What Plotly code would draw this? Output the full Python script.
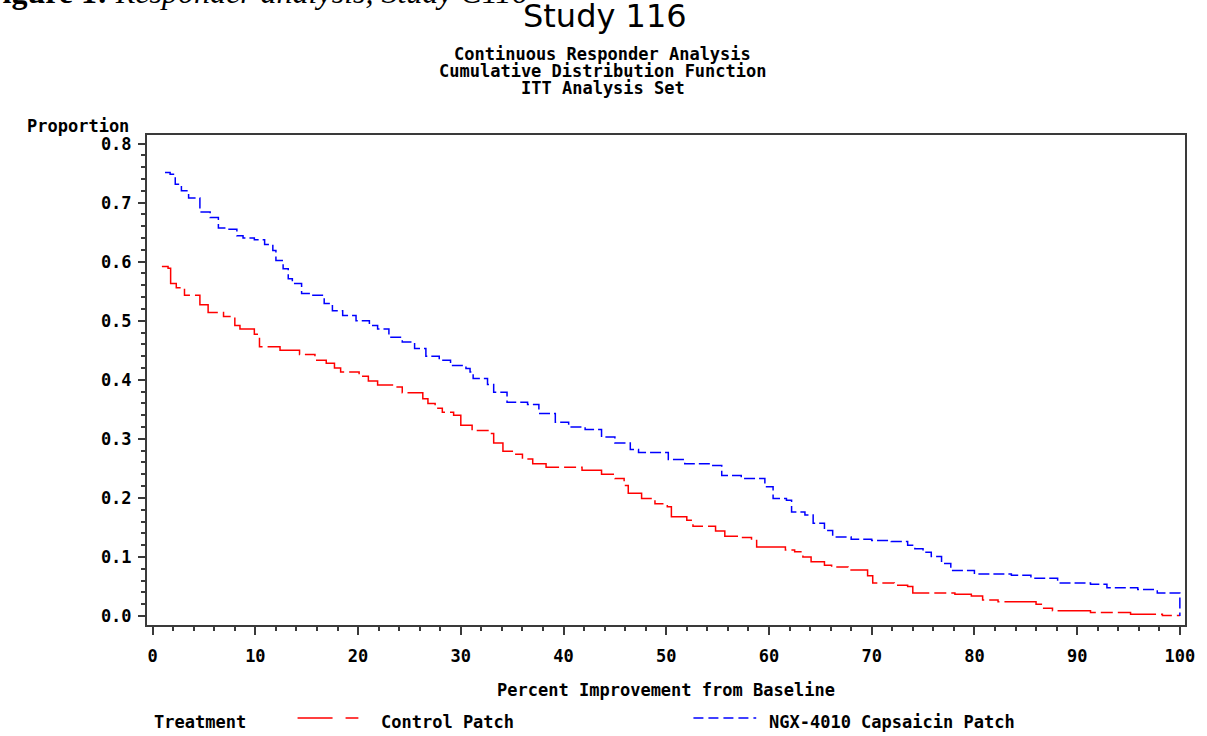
import plotly.graph_objects as go

# ---------------- data ----------------
control_x = [0.9, 1.5, 1.75, 2.3, 3.1, 4.6, 5.4, 6.9, 8.0, 8.5, 9.9, 10.4, 12.4, 14.3,
             15.8, 16.9, 17.7, 18.3, 20.1, 21.0, 21.9, 23.5, 24.3, 26.3, 26.8, 27.5,
             28.2, 29.3, 30.0, 31.1, 32.9, 33.2, 34.1, 35.2, 36.0, 37.0, 38.3, 41.8,
             43.7, 45.0, 45.9, 46.3, 47.6, 48.9, 50.1, 50.5, 52.0, 52.6, 54.8, 55.7,
             57.0, 58.3, 58.8, 61.6, 62.5, 63.3, 64.1, 65.4, 66.1, 67.7, 69.6, 70.1,
             72.2, 73.5, 74.0, 78.1, 79.7, 80.8, 82.3, 86.0, 86.6, 87.6, 91.3, 95.2,
             98.3, 100.0]
control_y = [0.592, 0.589, 0.563, 0.556, 0.543, 0.527, 0.514, 0.507, 0.492, 0.486, 0.477,
             0.456, 0.450, 0.443, 0.433, 0.428, 0.420, 0.413, 0.406, 0.398, 0.391, 0.388,
             0.378, 0.368, 0.360, 0.352, 0.345, 0.340, 0.323, 0.314, 0.309, 0.293, 0.279,
             0.274, 0.266, 0.258, 0.252, 0.247, 0.240, 0.233, 0.221, 0.208, 0.199, 0.190,
             0.185, 0.168, 0.162, 0.152, 0.144, 0.135, 0.133, 0.128, 0.117, 0.112, 0.109,
             0.100, 0.092, 0.086, 0.083, 0.078, 0.068, 0.056, 0.052, 0.050, 0.039, 0.037,
             0.034, 0.027, 0.024, 0.020, 0.013, 0.009, 0.006, 0.003, 0.001, 0.001]

capsaicin_x = [1.2, 1.7, 2.2, 2.8, 3.5, 4.6, 5.6, 6.4, 7.3, 8.2, 8.8, 9.9, 10.9, 11.7,
               12.0, 12.7, 13.2, 13.6, 14.5, 15.6, 16.7, 17.5, 18.5, 19.8, 21.1, 21.9,
               23.0, 24.3, 25.5, 26.6, 27.9, 29.0, 30.5, 30.9, 31.2, 32.6, 33.2, 34.5,
               36.5, 37.6, 39.2, 40.5, 42.1, 43.7, 45.0, 46.5, 47.3, 50.2, 51.8, 54.4,
               55.4, 57.3, 59.6, 60.4, 61.7, 62.2, 63.5, 64.3, 65.4, 66.2, 68.0, 70.0,
               71.9, 73.5, 74.2, 75.0, 75.8, 76.8, 77.7, 80.0, 83.6, 85.5, 88.1, 91.3,
               92.9, 95.9, 97.8, 100.0]
capsaicin_y = [0.751, 0.748, 0.731, 0.720, 0.708, 0.684, 0.675, 0.657, 0.655, 0.644, 0.640,
               0.637, 0.629, 0.619, 0.602, 0.588, 0.571, 0.563, 0.546, 0.543, 0.529, 0.517,
               0.509, 0.500, 0.492, 0.486, 0.472, 0.464, 0.453, 0.440, 0.433, 0.424, 0.419,
               0.413, 0.402, 0.392, 0.379, 0.362, 0.358, 0.343, 0.328, 0.320, 0.316, 0.303,
               0.293, 0.282, 0.277, 0.265, 0.258, 0.255, 0.238, 0.233, 0.219, 0.199, 0.196,
               0.176, 0.171, 0.157, 0.145, 0.134, 0.130, 0.128, 0.126, 0.120, 0.114, 0.108,
               0.101, 0.089, 0.077, 0.071, 0.069, 0.064, 0.056, 0.054, 0.048, 0.045, 0.039,
               0.000]

series_names = ["Control Patch", "NGX-4010 Capsaicin Patch"]
x_ticks = [0, 10, 20, 30, 40, 50, 60, 70, 80, 90, 100]
y_ticks = [0.0, 0.1, 0.2, 0.3, 0.4, 0.5, 0.6, 0.7, 0.8]

# ---------------- layout geometry ----------------
W, H = 1207, 736
L, R, T, B = 147, 19, 135, 111
PW, PH = W - L - R, H - T - B

def px2x(px):
    return (px - L) / PW

def py2y(py):
    return (H - B - py) / PH

MONO = "DejaVu Sans Mono"
FS = 17
RED = "rgb(255,0,0)"
BLUE = "rgb(0,0,255)"
AXC = "#3a3a3a"

fig = go.Figure()
fig.add_trace(go.Scatter(x=control_x, y=control_y, mode="lines", line_shape="hv",
                         name=series_names[0],
                         line=dict(color=RED, width=1.5, dash="40px,5px,12px,5px")))
fig.add_trace(go.Scatter(x=capsaicin_x, y=capsaicin_y, mode="lines", line_shape="hv",
                         name=series_names[1],
                         line=dict(color=BLUE, width=1.5, dash="11px,4px")))

monofont = dict(family=MONO, size=FS, color="black", weight="bold")

fig.update_xaxes(range=[-0.55, 100.5], tickvals=x_ticks, ticktext=[str(v) for v in x_ticks],
                 ticks="outside", ticklen=8, tickwidth=1.5, tickcolor=AXC,
                 minor=dict(dtick=2, ticks="outside", ticklen=4, tickwidth=1.5, tickcolor=AXC),
                 showline=True, linecolor=AXC, linewidth=2, mirror=True,
                 showgrid=False, zeroline=False, tickfont=monofont,
                 ticklabelstandoff=7,
                 title=dict(text="Percent Improvement from Baseline", font=monofont,
                            standoff=19))
fig.update_yaxes(range=[-0.0152, 0.8145], tickvals=y_ticks,
                 ticktext=["%.1f" % v for v in y_ticks],
                 ticks="outside", ticklen=7, tickwidth=1.5, tickcolor=AXC,
                 minor=dict(dtick=0.02, ticks="outside", ticklen=4, tickwidth=1.5, tickcolor=AXC),
                 showline=True, linecolor=AXC, linewidth=2, mirror=True,
                 showgrid=False, zeroline=False, tickfont=monofont,
                 ticklabelstandoff=3)

ann = []
# header caption (cut off at top of page in the reference)
ann.append(dict(text="<b>Figure 1:</b> <i>Responder analysis, Study C116</i>",
                xref="paper", yref="paper", x=px2x(-19), y=py2y(-8),
                xanchor="left", yanchor="middle", showarrow=False,
                font=dict(family="Liberation Serif", size=32, color="black")))
# titles
ann.append(dict(text="Study 116", xref="paper", yref="paper", x=px2x(606), y=py2y(16),
                xanchor="center", yanchor="middle", showarrow=False,
                font=dict(family="DejaVu Sans", size=32, color="black")))
for txt, yy in [("Continuous Responder Analysis", 54),
                ("Cumulative Distribution Function", 71),
                ("ITT Analysis Set", 88)]:
    ann.append(dict(text=txt, xref="paper", yref="paper", x=px2x(604), y=py2y(yy),
                    xanchor="center", yanchor="middle", showarrow=False, font=monofont))
# y-axis label (horizontal, above axis)
ann.append(dict(text="Proportion", xref="paper", yref="paper", x=px2x(131), y=py2y(126),
                xanchor="right", yanchor="middle", showarrow=False, font=monofont))
# manual legend
ann.append(dict(text="Treatment", xref="paper", yref="paper", x=px2x(152), y=py2y(722),
                xanchor="left", yanchor="middle", showarrow=False, font=monofont))
ann.append(dict(text=series_names[0], xref="paper", yref="paper", x=px2x(380), y=py2y(722),
                xanchor="left", yanchor="middle", showarrow=False, font=monofont))
ann.append(dict(text=series_names[1], xref="paper", yref="paper", x=px2x(769), y=py2y(722),
                xanchor="left", yanchor="middle", showarrow=False, font=monofont))

shapes = [
    dict(type="line", xref="paper", yref="paper", x0=px2x(298), x1=px2x(359),
         y0=py2y(718), y1=py2y(718), line=dict(color=RED, width=1.5, dash="35px,13px,13px,13px")),
    dict(type="line", xref="paper", yref="paper", x0=px2x(695), x1=px2x(758),
         y0=py2y(718), y1=py2y(718), line=dict(color=BLUE, width=1.5, dash="10px,5px")),
]

fig.update_layout(width=W, height=H, margin=dict(l=L, r=R, t=T, b=B),
                  paper_bgcolor="white", plot_bgcolor="white",
                  showlegend=False, annotations=ann, shapes=shapes)

fig.write_html("out.html", config={"displayModeBar": False},
               post_script="document.body.style.margin='0px';document.body.style.overflow='hidden';")
